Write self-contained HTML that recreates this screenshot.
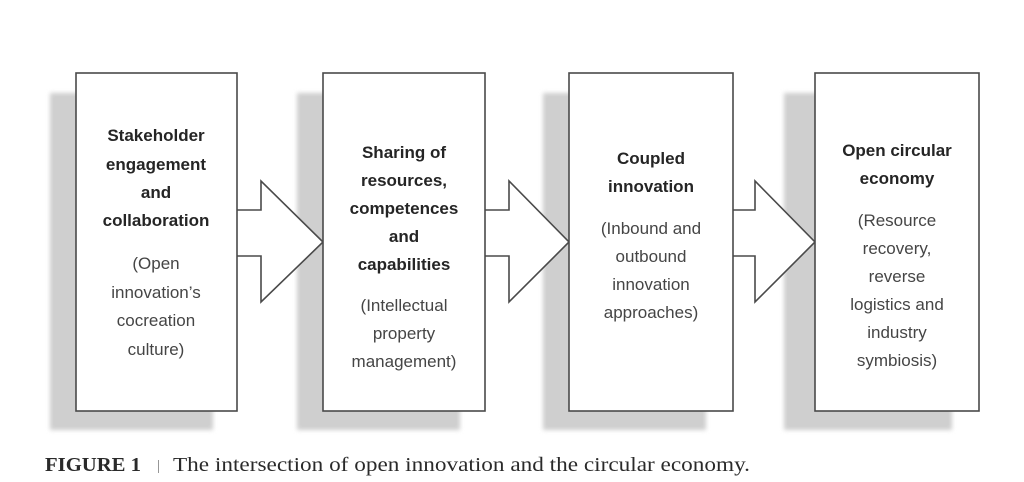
<!DOCTYPE html>
<html><head><meta charset="utf-8"><style>
html,body{margin:0;padding:0;background:#fff;}
svg{display:block;}
</style></head><body>
<svg width="1024" height="482" viewBox="0 0 1024 482" xmlns="http://www.w3.org/2000/svg">
<defs><filter id="b"><feGaussianBlur stdDeviation="2"/></filter></defs>
<g fill="#cfcfcf" filter="url(#b)">
<rect x="50" y="93" width="163" height="337"/>
<rect x="297" y="93" width="163" height="337"/>
<rect x="543" y="93" width="163" height="337"/>
<rect x="784" y="93" width="168" height="337"/>
</g>
<g fill="#fff" stroke="#4a4a4a" stroke-width="1.6" stroke-linejoin="miter">
<polyline points="237,210 261,210 261,181 323,242 261,302 261,256 237,256"/>
<polyline points="485,210 509,210 509,181 569,242 509,302 509,256 485,256"/>
<polyline points="733,210 755,210 755,181 815,242 755,302 755,256 733,256"/>
</g>
<g fill="#fff" stroke="#4a4a4a" stroke-width="1.6">
<rect x="76" y="73" width="161" height="338"/>
<rect x="323" y="73" width="162" height="338"/>
<rect x="569" y="73" width="164" height="338"/>
<rect x="815" y="73" width="164" height="338"/>
</g>
<g font-family="Liberation Sans, Arial, sans-serif" font-size="17" text-anchor="middle">
<g font-weight="bold" fill="#252525">
<text x="156" y="141">Stakeholder</text>
<text x="156" y="170">engagement</text>
<text x="156" y="198">and</text>
<text x="156" y="226">collaboration</text>
<text x="404" y="158">Sharing of</text>
<text x="404" y="186">resources,</text>
<text x="404" y="214">competences</text>
<text x="404" y="242">and</text>
<text x="404" y="270">capabilities</text>
<text x="651" y="164">Coupled</text>
<text x="651" y="192">innovation</text>
<text x="897" y="156">Open circular</text>
<text x="897" y="184">economy</text>
</g>
<g fill="#454545">
<text x="156" y="269">(Open</text>
<text x="156" y="298">innovation’s</text>
<text x="156" y="326">cocreation</text>
<text x="156" y="355">culture)</text>
<text x="404" y="311">(Intellectual</text>
<text x="404" y="339">property</text>
<text x="404" y="367">management)</text>
<text x="651" y="234">(Inbound and</text>
<text x="651" y="262">outbound</text>
<text x="651" y="290">innovation</text>
<text x="651" y="318">approaches)</text>
<text x="897" y="226">(Resource</text>
<text x="897" y="254">recovery,</text>
<text x="897" y="282">reverse</text>
<text x="897" y="310">logistics and</text>
<text x="897" y="338">industry</text>
<text x="897" y="366">symbiosis)</text>
</g>
</g>
<g font-family="Liberation Serif, Times New Roman, serif" font-size="20" fill="#2a2a2a">
<text x="45" y="471" font-weight="bold" textLength="96" lengthAdjust="spacingAndGlyphs">FIGURE 1</text>
<text x="157" y="470" font-size="15" fill="#777">|</text>
<text x="173" y="471" textLength="577" lengthAdjust="spacingAndGlyphs">The intersection of open innovation and the circular economy.</text>
</g>
</svg>
</body></html>
